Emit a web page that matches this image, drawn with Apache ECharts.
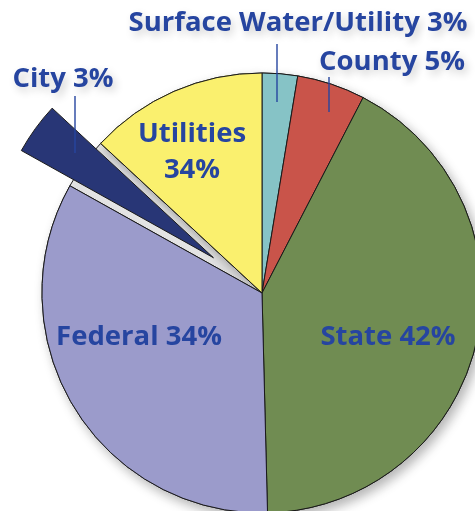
<!DOCTYPE html>
<html>
<head>
<meta charset="utf-8">
<script src="https://cdn.jsdelivr.net/npm/echarts@6/dist/echarts.min.js"></script>
<style>
    html, body { margin: 0; padding: 0; background: #fff; }
    #chart { width: 475px; height: 511px; }
</style>
</head>
<body>
<div id="chart"></div>
<script>
    // clockwise from 12 o'clock
    var categories = ['Surface Water/Utility', 'County', 'State', 'Federal', 'City', 'Utilities'];
    var shares = [2.6, 5.0, 42.0, 33.5, 3.8, 13.1];
    var labelTexts = ['Surface Water/Utility 3%', 'County 5%', 'State 42%', 'Federal 34%', 'City 3%', 'Utilities\n34%'];

    var colors = ['#86c3c6', '#c9544a', '#708c52', '#9b9bcb', '#283676', '#faf06e'];
    // label placement: [x, y] of the text centre, and leader line (or null)
    var labelPos = [[298, 23], [392, 62], [388, 337], [139, 337], [63, 79], [192, 152]];
    var leaders = [
        [[277, 102], [277, 70], [277, 44]],
        [[329, 112], [329, 95], [329, 77]],
        null, null,
        [[75, 153], [75, 125], [75, 96]],
        null
    ];

    var chart = echarts.init(document.getElementById('chart'));

    var pieBase = {
        type: 'pie',
        center: [262, 293],
        radius: 220,
        startAngle: 90,
        avoidLabelOverlap: false
    };

    function items(colorOf, extra) {
        return shares.map(function (v, i) {
            var d = { value: v, name: categories[i], itemStyle: { color: colorOf(i) } };
            if (extra) extra(d, i);
            return d;
        });
    }

    chart.setOption({
        animation: false,
        series: [
            // underlay: drop shadow and the grey slot left by the exploded slice
            Object.assign({}, pieBase, {
                z: 1,
                silent: true,
                label: { show: false },
                labelLine: { show: false },
                itemStyle: {
                    borderColor: '#1a1a1a',
                    borderWidth: 1,
                    shadowBlur: 12,
                    shadowColor: 'rgba(0,0,0,0.3)',
                    shadowOffsetX: 4,
                    shadowOffsetY: 5
                },
                data: items(function (i) { return categories[i] === 'City' ? '#e6e6e6' : colors[i]; })
            }),
            // the pie itself, City pulled out
            Object.assign({}, pieBase, {
                z: 2,
                selectedMode: 'single',
                selectedOffset: 60,
                label: { show: false },
                labelLine: { show: false },
                itemStyle: { borderColor: '#1a1a1a', borderWidth: 1 },
                data: items(function (i) { return colors[i]; }, function (d, i) {
                    d.selected = categories[i] === 'City';
                })
            }),
            // labels and leader lines on top
            Object.assign({}, pieBase, {
                z: 3,
                silent: true,
                itemStyle: { color: 'rgba(0,0,0,0)', borderWidth: 0 },
                label: {
                    show: true,
                    position: 'outside',
                    alignTo: 'none',
                    formatter: function (p) { return labelTexts[p.dataIndex]; },
                    color: '#2645a0',
                    fontFamily: 'Open Sans',
                    fontWeight: 'bold',
                    fontSize: 27.5,
                    lineHeight: 36,
                    align: 'center',
                    verticalAlign: 'middle',
                    overflow: 'none'
                },
                labelLine: {
                    show: true,
                    lineStyle: { color: '#2645a0', width: 1.4 }
                },
                labelLayout: function (p) {
                    var i = p.dataIndex;
                    var res = { x: labelPos[i][0], y: labelPos[i][1], align: 'center', verticalAlign: 'middle' };
                    if (leaders[i]) res.labelLinePoints = leaders[i];
                    return res;
                },
                data: items(function () { return 'rgba(0,0,0,0)'; }, function (d, i) {
                    d.labelLine = { show: !!leaders[i] };
                    if (leaders[i]) {
                        // soft glow behind the labels that sit outside the pie
                        d.label = {
                            textShadowColor: 'rgba(0,0,0,0.2)',
                            textShadowBlur: 8,
                            textShadowOffsetX: 3,
                            textShadowOffsetY: 4
                        };
                    }
                })
            })
        ]
    });
</script>
</body>
</html>
